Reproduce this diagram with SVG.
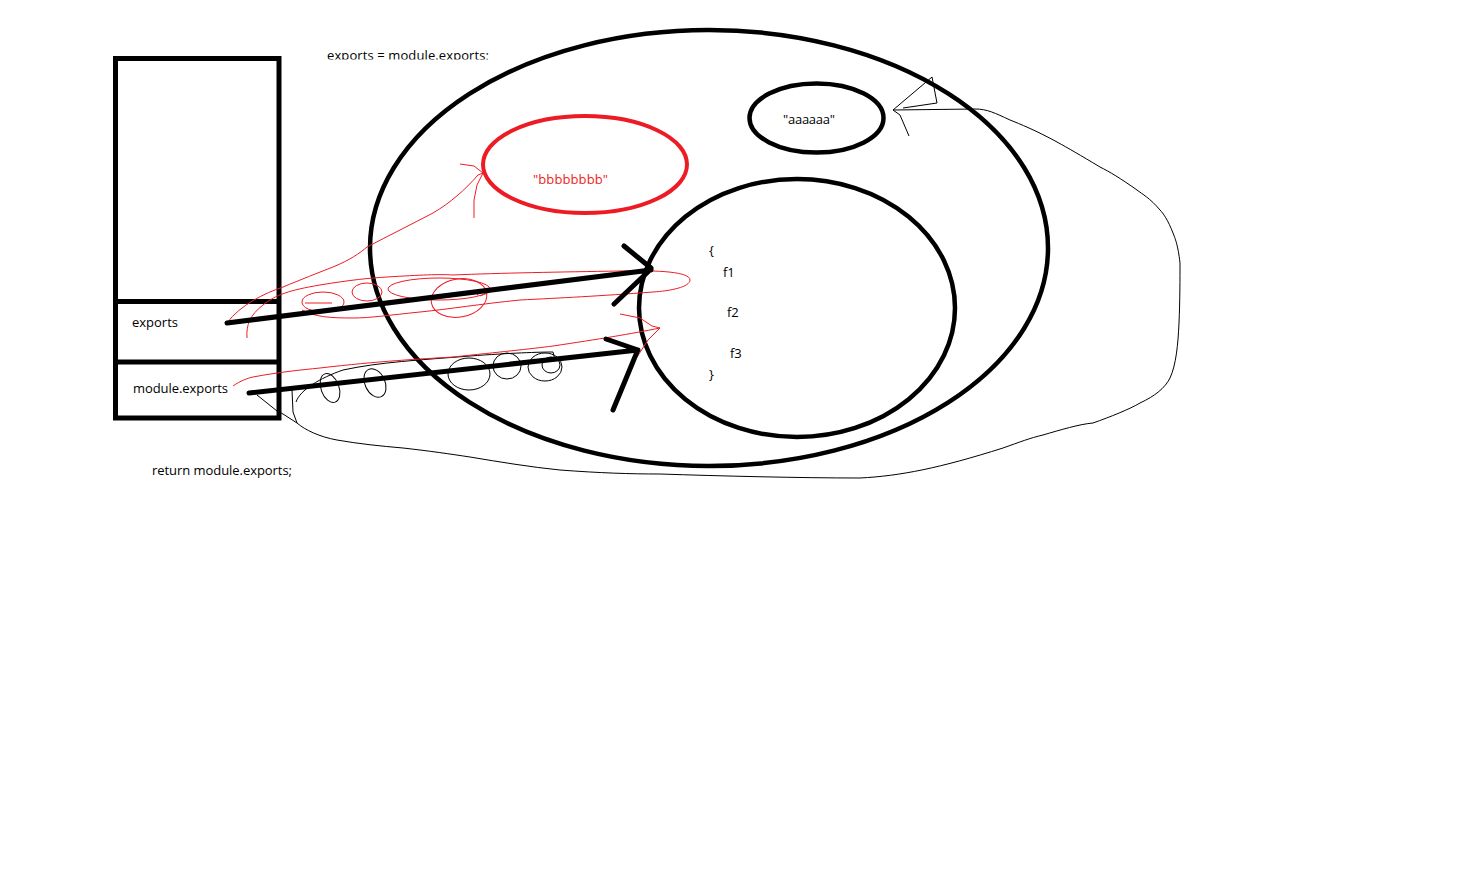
<svg xmlns="http://www.w3.org/2000/svg" width="1476" height="892" viewBox="0 0 1476 892">
<defs>
<style>
.t{font-family:"Open Sans","Noto Sans","Liberation Sans",sans-serif;font-size:13px;fill:#000}
.red{fill:#ED1C24}
.thick{fill:none;stroke:#000;stroke-width:5;stroke-linecap:round}
.shape{fill:none;stroke:#000;stroke-width:4.5}
.rs{fill:none;stroke:#ED1C24;stroke-width:1}
.bs{fill:none;stroke:#000;stroke-width:1}
</style>
<clipPath id="topclip"><rect x="300" y="0" width="300" height="59.5"/></clipPath>
</defs>
<rect width="1476" height="892" fill="#fff"/>

<g id="caption-top">
<text class="t" x="327" y="60" clip-path="url(#topclip)" textLength="162">exports = module.exports;</text>
</g>
<g id="caption-bottom">
<text class="t" x="152" y="475" textLength="140">return module.exports;</text>
</g>

<g id="stack">
<rect x="115.5" y="58.5" width="163.5" height="359.5" fill="none" stroke="#000" stroke-width="5"/>
</g>
<g id="cell-exports">
<line x1="115" y1="301.5" x2="279" y2="301.5" stroke="#000" stroke-width="5"/>
<text class="t" x="132" y="327" textLength="46">exports</text>
</g>
<g id="cell-module-exports">
<line x1="115" y1="362" x2="279" y2="362" stroke="#000" stroke-width="5"/>
<text class="t" x="133" y="393" textLength="95">module.exports</text>
</g>

<g id="heap">
<ellipse class="shape" cx="709" cy="248" rx="339" ry="218"/>
</g>
<g id="string-b">
<ellipse cx="585" cy="164.5" rx="102" ry="48.5" fill="none" stroke="#ED1C24" stroke-width="4"/>
<text class="t red" x="533" y="184" textLength="75">"bbbbbbbb"</text>
</g>
<g id="string-a">
<ellipse class="shape" cx="816.5" cy="118" rx="67" ry="34.5"/>
<text class="t" x="783" y="124" textLength="52">"aaaaaa"</text>
</g>
<g id="object">
<ellipse class="shape" cx="797" cy="308" rx="158" ry="129"/>
<text class="t" x="709" y="255">{</text>
<text class="t" x="723" y="277">f1</text>
<text class="t" x="727" y="317">f2</text>
<text class="t" x="730" y="358">f3</text>
<text class="t" x="709" y="379">}</text>
</g>

<g id="connectors">
<!-- thin black loop around heap -->
<path class="bs" d="M257,395 L277,411 L283,414 L297,423 C305,430 320,437 337,440 C360,444 380,446 403,448 C430,451 450,454 470,457 C500,462 530,467 560,470 C600,473 630,474 660,474 C720,476 800,478 860,478 C900,476 940,468 1003,448 C1020,442 1030,438 1043,435 C1060,430 1080,424 1093,423 C1110,417 1130,409 1140,403 C1155,396 1165,388 1170,378 C1176,365 1178,345 1179,323 C1180,300 1180,278 1180,263 C1178,245 1175,238 1173,233 C1168,220 1163,213 1160,210 C1150,198 1142,194 1137,190 C1120,178 1110,172 1100,167 C1080,155 1068,148 1057,142 C1035,130 1020,124 1010,120 C995,113 987,109 975,109 L893,110"/>
<path class="bs" d="M893,110 L932,77 L937,103 L903,108"/>
<path class="bs" d="M893,110 L900,115 L909,136"/>
<path class="bs" d="M292,390 L293,412 L297,423"/>
<path class="bs" d="M296,402 C300,390 320,378 343,370 C380,362 420,360 470,356 C510,353 540,352 553,352 L555,360"/>
<ellipse class="bs" cx="330" cy="388" rx="9" ry="15" transform="rotate(-20 330 388)"/>
<ellipse class="bs" cx="375" cy="383" rx="10" ry="15" transform="rotate(-25 375 383)"/>
<ellipse class="bs" cx="469" cy="374" rx="21" ry="16"/>
<ellipse class="bs" cx="507" cy="366" rx="14" ry="13"/>
<ellipse class="bs" cx="545" cy="367" rx="17" ry="14"/>
<ellipse class="bs" cx="551" cy="365" rx="9" ry="8"/>

<!-- red scribbles -->
<path class="rs" d="M227,323 C240,305 265,293 283,287 C300,280 320,272 333,267 C350,260 360,253 367,247 C390,235 410,225 433,213 C450,203 465,190 478,175 L483,173"/>
<path class="rs" d="M460,164 L474,166 L483,173 L477,185 L474,200 L474,218"/>
<path class="rs" d="M247,338 C246,325 250,315 263,305 C275,295 290,290 320,285 C350,280 370,278 387,277 C420,275 440,274 453,275 C500,273 560,272 620,271 C660,270 690,272 690,280 C690,287 670,291 653,292 C600,296 560,298 520,300 C480,304 450,309 420,312 C390,315 370,318 353,318 C330,318 315,317 302,310"/>
<ellipse class="rs" cx="323" cy="302" rx="21" ry="10"/>
<path class="rs" d="M305,303 L332,303"/>
<ellipse class="rs" cx="367" cy="292" rx="15" ry="9"/>
<ellipse class="rs" cx="439" cy="289" rx="51" ry="11"/>
<ellipse class="rs" cx="459" cy="298" rx="28" ry="19" transform="rotate(-10 459 298)"/>
<path class="rs" d="M477,295 L486,288 L490,292 L480,296"/>
<path class="rs" d="M233,386 C240,381 248,378 253,377 C280,372 300,370 320,368 C380,361 420,359 453,357 C500,352 530,349 553,346 C600,339 630,334 660,328"/>
<path class="rs" d="M620,314 L640,318 L652,326 L660,328 L648,340 L637,357"/>

<!-- black arrows -->
<path class="thick" d="M227,323 L651,270 M624,246 L651,268 M614,304 L651,269"/>
<path class="thick" d="M249,393 L638,350 M606,339 L638,350 M613,410 L637,352"/>
</g>
</svg>
